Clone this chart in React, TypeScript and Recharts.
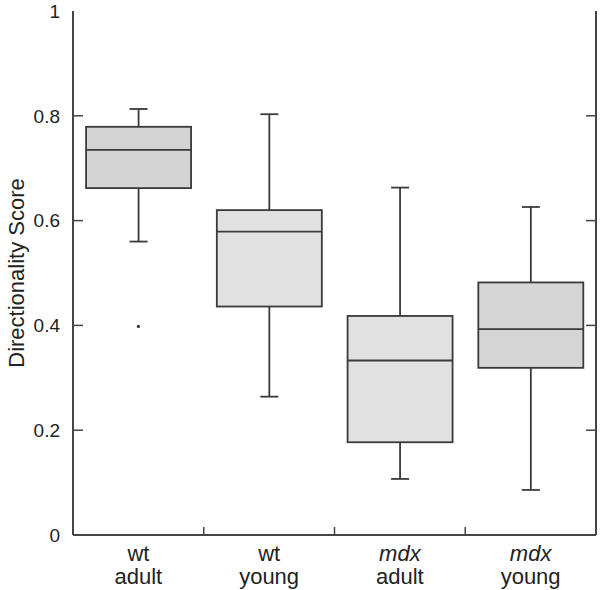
import React from 'react';
import { ComposedChart, Bar, Line, Scatter, XAxis, YAxis } from 'recharts';

// box plot values
const groups = ['wt adult', 'wt young', 'mdx adult', 'mdx young'];
const labelTop = ['wt', 'wt', 'mdx', 'mdx'];
const labelBottom = ['adult', 'young', 'adult', 'young'];
const whiskerLow = [0.56, 0.264, 0.107, 0.086];
const q1 = [0.662, 0.436, 0.177, 0.319];
const median = [0.735, 0.579, 0.333, 0.393];
const q3 = [0.779, 0.62, 0.418, 0.482];
const whiskerHigh = [0.813, 0.803, 0.663, 0.626];
const outlierGroups = ['wt adult'];
const outlierValues = [0.398];
const boxFills = ['#d4d4d4', '#e1e1e1', '#e1e1e1', '#d5d5d5'];
const yTicks = [0, 0.2, 0.4, 0.6, 0.8, 1];

const FONT = '"Liberation Sans", Arial, Helvetica, sans-serif';
const LINE = '#454545';
const BOX_LINE = '#3a3a3a';

const data = groups.map((name, i) => ({
  name,
  base: q1[i],
  box: q3[i] - q1[i],
  q1: q1[i],
  q3: q3[i],
  median: median[i],
  low: whiskerLow[i],
  high: whiskerHigh[i],
  boxFill: boxFills[i],
}));

const outlierData = outlierGroups.map((name, i) => ({ name, outlier: outlierValues[i] }));

// draws box + whiskers, using the bar's own pixel scale
const BoxShape = (props: any) => {
  const { x, y, width, height, payload } = props;
  if (!payload || height == null) return null;
  const k = height / (payload.q3 - payload.q1);
  const py = (v: number) => y + (payload.q3 - v) * k;
  const cx = x + width / 2;
  const cap = 9;
  return (
    <g>
      <line x1={cx} x2={cx} y1={py(payload.high)} y2={y} stroke={BOX_LINE} strokeWidth={1.8} />
      <line x1={cx - cap} x2={cx + cap} y1={py(payload.high)} y2={py(payload.high)} stroke={BOX_LINE} strokeWidth={1.8} />
      <line x1={cx} x2={cx} y1={y + height} y2={py(payload.low)} stroke={BOX_LINE} strokeWidth={1.8} />
      <line x1={cx - cap} x2={cx + cap} y1={py(payload.low)} y2={py(payload.low)} stroke={BOX_LINE} strokeWidth={1.8} />
      <rect x={x} y={y} width={width} height={height} fill={payload.boxFill} stroke={BOX_LINE} strokeWidth={1.8} />
      <line x1={x} x2={x + width} y1={py(payload.median)} y2={py(payload.median)} stroke={BOX_LINE} strokeWidth={1.8} />
    </g>
  );
};

const LeftTick = (props: any) => {
  const { x, y, payload } = props;
  const v = payload.value;
  return (
    <g>
      {v > 0 && v < 1 && <line x1={x} x2={x + 10} y1={y} y2={y} stroke={LINE} strokeWidth={1.5} />}
      <text x={x - 13} y={y} dy="0.36em" textAnchor="end" fontSize={19} fontFamily={FONT} fill="#222">
        {String(v)}
      </text>
    </g>
  );
};

const RightTick = (props: any) => {
  const { x, y, payload } = props;
  const v = payload.value;
  if (v <= 0 || v >= 1) return null;
  return <line x1={x} x2={x - 10} y1={y} y2={y} stroke={LINE} strokeWidth={1.5} />;
};

const BottomTick = (props: any) => {
  const { x, y, index, width, visibleTicksCount } = props;
  const band = width / visibleTicksCount;
  const italic = labelTop[index] === 'mdx';
  return (
    <g>
      {index < visibleTicksCount - 1 && (
        <line x1={x + band / 2} x2={x + band / 2} y1={y} y2={y - 8} stroke={LINE} strokeWidth={1.5} />
      )}
      <text x={x} y={y + 26} textAnchor="middle" fontSize={22} fontFamily={FONT} fill="#222" fontStyle={italic ? 'italic' : 'normal'}>
        {labelTop[index]}
      </text>
      <text x={x} y={y + 49} textAnchor="middle" fontSize={22} fontFamily={FONT} fill="#222">
        {labelBottom[index]}
      </text>
    </g>
  );
};

const TopTick = (props: any) => {
  const { x, y, index, width, visibleTicksCount } = props;
  const band = width / visibleTicksCount;
  if (index >= visibleTicksCount - 1) return null;
  return <line x1={x + band / 2} x2={x + band / 2} y1={y} y2={y + 8} stroke={LINE} strokeWidth={1.5} />;
};

const YLabel = (props: any) => {
  const { viewBox } = props;
  const cx = 16;
  const cy = viewBox.y + viewBox.height / 2;
  return (
    <text x={cx} y={cy} transform={`rotate(-90, ${cx}, ${cy})`} textAnchor="middle" dy="0.36em" fontSize={22} fontFamily={FONT} fill="#222">
      Directionality Score
    </text>
  );
};

export default function App() {
  return (
    <div style={{ position: 'absolute', left: 0, top: 0, background: '#fff' }}>
      <ComposedChart
        width={600}
        height={590}
        data={data}
        margin={{ top: 11, right: 0, bottom: 0, left: 0 }}
        barCategoryGap="10%"
      >
        <XAxis
          xAxisId="bottom"
          dataKey="name"
          orientation="bottom"
          allowDuplicatedCategory={false}
          height={55}
          tickLine={false}
          tickSize={0}
          tickMargin={0}
          tick={<BottomTick />}
          interval={0}
          axisLine={{ stroke: LINE, strokeWidth: 2 }}
        />
        <XAxis
          xAxisId="top"
          dataKey="name"
          orientation="top"
          allowDuplicatedCategory={false}
          height={0}
          tickLine={false}
          tickSize={0}
          tickMargin={0}
          tick={<TopTick />}
          interval={0}
          axisLine={{ stroke: LINE, strokeWidth: 2 }}
        />
        <YAxis
          yAxisId="left"
          domain={[0, 1]}
          ticks={yTicks}
          interval={0}
          width={73}
          tickLine={false}
          tickSize={0}
          tickMargin={0}
          tick={<LeftTick />}
          axisLine={{ stroke: LINE, strokeWidth: 2 }}
          label={<YLabel />}
        />
        <YAxis
          yAxisId="right"
          orientation="right"
          domain={[0, 1]}
          ticks={yTicks}
          interval={0}
          width={4}
          tickLine={false}
          tickSize={0}
          tickMargin={0}
          tick={<RightTick />}
          axisLine={{ stroke: LINE, strokeWidth: 2 }}
        />
        {/* invisible series so the frame axes (top / right) get their scales */}
        <Line
          xAxisId="top"
          yAxisId="right"
          dataKey="median"
          stroke="none"
          dot={false}
          activeDot={false}
          legendType="none"
          isAnimationActive={false}
        />
        <Bar xAxisId="bottom" yAxisId="left" dataKey="base" stackId="box" fill="none" isAnimationActive={false} />
        <Bar xAxisId="bottom" yAxisId="left" dataKey="box" stackId="box" shape={<BoxShape />} isAnimationActive={false} />
        <Scatter
          xAxisId="bottom"
          yAxisId="left"
          data={outlierData}
          dataKey="outlier"
          fill="#333"
          shape={(p: any) => <circle cx={p.cx} cy={p.cy} r={1.6} fill="#333" />}
          isAnimationActive={false}
        />
      </ComposedChart>
    </div>
  );
}
